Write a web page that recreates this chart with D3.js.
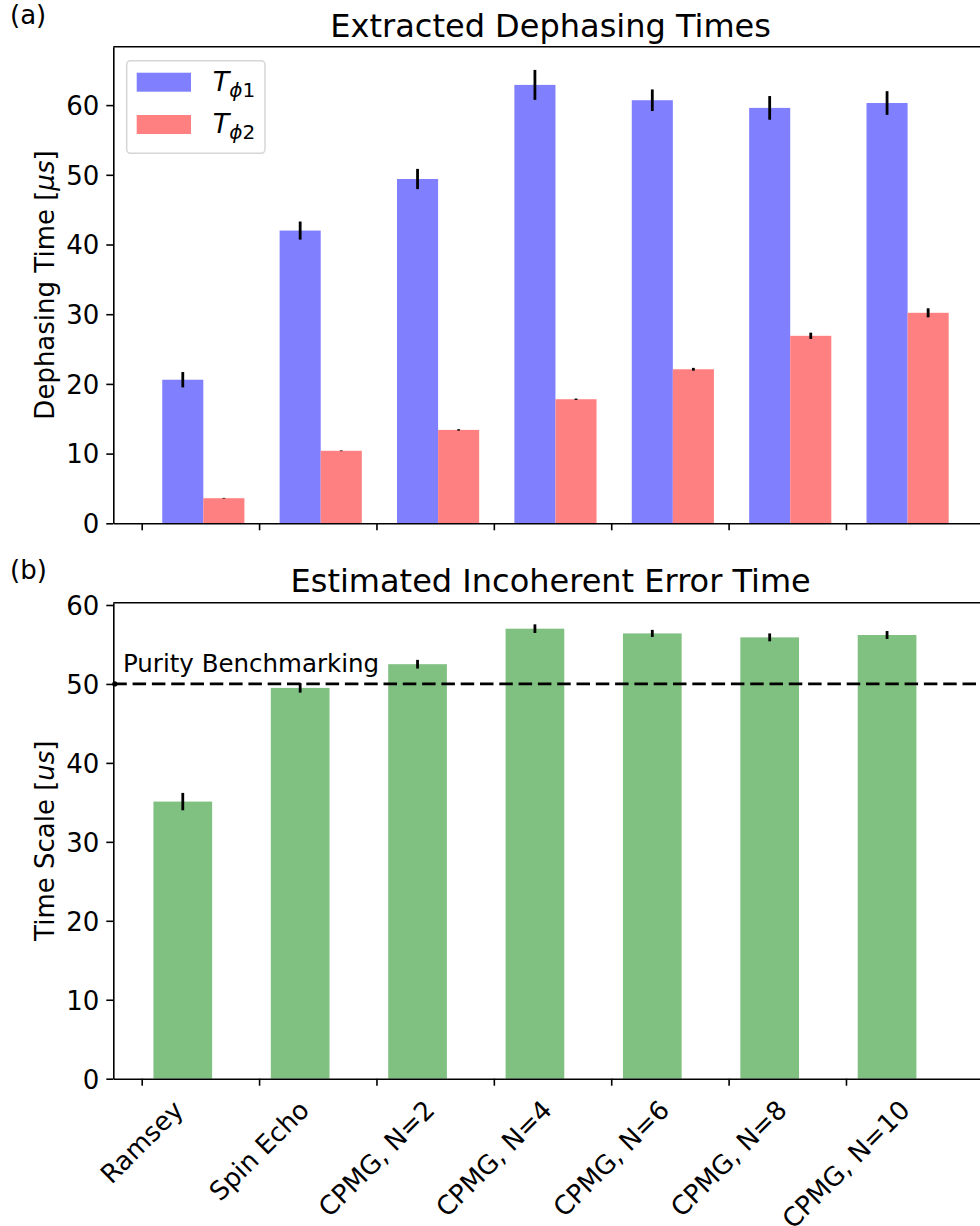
<!DOCTYPE html>
<html lang="en">
<head>
    <meta charset="UTF-8">
    <title>Dephasing times with D3.js</title>
    <script src="https://d3js.org/d3.v7.min.js"></script>
    <style>
        body { margin: 0; background: #fff; }
        svg { font-family: "DejaVu Sans", sans-serif; display: block; }
        .tick text { font-size: 26px; fill: #000; font-family: "DejaVu Sans", sans-serif; }
        .domain, .tick line { stroke: #000; stroke-width: 1.6px; }
    </style>
</head>
<body>
<svg id="chart" width="980" height="1226"></svg>
<script>
    // Measurement names (x categories)
    const methods = ["Ramsey", "Spin Echo", "CPMG, N=2", "CPMG, N=4", "CPMG, N=6", "CPMG, N=8", "CPMG, N=10"];

    // Panel (a): extracted dephasing times [us]
    const tphi1 = [20.6, 42.0, 49.4, 62.9, 60.7, 59.6, 60.3];
    const tphi1Err = [1.1, 1.3, 1.45, 2.15, 1.55, 1.7, 1.7];
    const tphi2 = [3.6, 10.4, 13.4, 17.8, 22.1, 26.9, 30.2];
    const tphi2Err = [0.05, 0.05, 0.1, 0.1, 0.2, 0.45, 0.65];

    // Panel (b): estimated incoherent error time [us]
    const incoherent = [35.1, 49.5, 52.5, 57.0, 56.4, 55.9, 56.2];
    const incoherentErr = [1.1, 0.6, 0.55, 0.55, 0.45, 0.5, 0.5];
    const purityLevel = 50;

    const yTicks = [0, 10, 20, 30, 40, 50, 60];

    const svg = d3.select("#chart");
    svg.append("rect").attr("width", 980).attr("height", 1226).attr("fill", "#fff");

    // shared x scale (category index as number, axes clipped at the right edge like the original)
    const x = d3.scaleLinear().domain([-0.242, 7.21]).range([113.3, 988]);

    const topY = d3.scaleLinear().domain([0, 68.38]).range([523.3, 46.7]);
    const botY = d3.scaleLinear().domain([0, 60.29]).range([1078.7, 602.7]);

    function drawAxes(y, title, titleY, panel, panelY, ylabel, withLabels) {
        const g = svg.append("g");

        // left axis
        g.append("g")
            .attr("transform", `translate(${x.range()[0]},0)`)
            .call(d3.axisLeft(y).tickValues(yTicks).tickSize(7).tickPadding(7).tickSizeOuter(0))
            .call(a => a.selectAll(".tick text").attr("dy", "0.36em"));

        // bottom axis
        const xa = g.append("g")
            .attr("transform", `translate(0,${y.range()[0]})`)
            .call(d3.axisBottom(x).tickValues(d3.range(methods.length)).tickSize(7).tickSizeOuter(0)
                .tickFormat(""));

        // top spine
        g.append("line")
            .attr("x1", x.range()[0]).attr("x2", x.range()[1])
            .attr("y1", y.range()[1]).attr("y2", y.range()[1])
            .attr("stroke", "#000").attr("stroke-width", 1.6);

        if (withLabels) {
            methods.forEach((m, i) => {
                const lg = xa.append("g");
                lg.append("text")
                    .attr("text-anchor", "middle")
                    .attr("dy", "0.35em")
                    .attr("transform", "rotate(-45)")
                    .attr("fill", "#000")
                    .style("font-family", "'DejaVu Sans', sans-serif")
                    .style("font-size", "26px")
                    .text(m);
                const bb = lg.node().getBBox();
                lg.attr("transform", `translate(${x(i)},${16 - bb.y})`);
            });
        }

        // title
        svg.append("text")
            .attr("x", (x.range()[0] + x.range()[1]) / 2)
            .attr("y", titleY)
            .attr("text-anchor", "middle")
            .style("font-size", "32px")
            .text(title);

        // panel letter
        svg.append("text")
            .attr("x", 10).attr("y", panelY)
            .style("font-size", "26px")
            .text(panel);

        // y label
        const yl = svg.append("text")
            .attr("transform", `translate(53.5,${(y.range()[0] + y.range()[1]) / 2}) rotate(-90)`)
            .attr("text-anchor", "middle")
            .style("font-size", "26px");
        yl.append("tspan").text(ylabel[0]);
        yl.append("tspan").style("font-style", "italic").text(ylabel[1]);
        yl.append("tspan").text("]");
    }

    function errorBars(values, errs, offset, y) {
        svg.append("g").selectAll("line")
            .data(values)
            .join("line")
            .attr("x1", (d, i) => x(i + offset))
            .attr("x2", (d, i) => x(i + offset))
            .attr("y1", (d, i) => y(d - errs[i]))
            .attr("y2", (d, i) => y(d + errs[i]))
            .attr("stroke", "#000")
            .attr("stroke-width", 2.8);
    }

    // ---------------- Panel (a) ----------------
    const barW = 0.35;
    svg.append("g").selectAll("rect")
        .data(tphi1)
        .join("rect")
        .attr("x", (d, i) => x(i + 0.175))
        .attr("width", x(barW) - x(0))
        .attr("y", d => topY(d))
        .attr("height", d => topY(0) - topY(d))
        .attr("fill", "#8080ff");

    svg.append("g").selectAll("rect")
        .data(tphi2)
        .join("rect")
        .attr("x", (d, i) => x(i + 0.525))
        .attr("width", x(barW) - x(0))
        .attr("y", d => topY(d))
        .attr("height", d => topY(0) - topY(d))
        .attr("fill", "#ff8080");

    errorBars(tphi1, tphi1Err, 0.35, topY);
    errorBars(tphi2, tphi2Err, 0.7, topY);

    drawAxes(topY, "Extracted Dephasing Times", 37, "(a)", 24, ["Dephasing Time [", "\u03bcs"], false);

    // legend
    const legend = svg.append("g").attr("transform", "translate(126.7,60.7)");
    legend.append("rect")
        .attr("width", 138.3).attr("height", 92.6)
        .attr("rx", 4)
        .attr("fill", "#fff").attr("fill-opacity", 0.8)
        .attr("stroke", "#d6d6d6").attr("stroke-width", 1.5);
    [["#8080ff", "1"], ["#ff8080", "2"]].forEach(([c, n], k) => {
        legend.append("rect")
            .attr("x", 10).attr("y", 12 + k * 42.3)
            .attr("width", 54.3).attr("height", 19)
            .attr("fill", c);
        const t = legend.append("text")
            .attr("x", 86).attr("y", 30 + k * 42)
            .style("font-size", "27px")
            .style("font-style", "italic");
        t.append("tspan").text("T");
        t.append("tspan").attr("dy", 6).style("font-size", "20px").text("\u03d5");
        t.append("tspan").style("font-size", "20px").style("font-style", "normal").text(n);
    });

    // ---------------- Panel (b) ----------------
    svg.append("g").selectAll("rect")
        .data(incoherent)
        .join("rect")
        .attr("x", (d, i) => x(i + 0.1))
        .attr("width", x(0.5) - x(0))
        .attr("y", d => botY(d))
        .attr("height", d => botY(0) - botY(d))
        .attr("fill", "#80c080");

    errorBars(incoherent, incoherentErr, 0.35, botY);

    // purity benchmarking reference line
    svg.append("line")
        .attr("x1", x.range()[0]).attr("x2", x.range()[1])
        .attr("y1", botY(purityLevel)).attr("y2", botY(purityLevel))
        .attr("stroke", "#000").attr("stroke-width", 2.8)
        .attr("stroke-dasharray", "13.5 5.8");
    svg.append("circle")
        .attr("cx", x.range()[0] + 1.5).attr("cy", botY(purityLevel))
        .attr("r", 2.6).attr("fill", "#000");
    svg.append("text")
        .attr("x", 123).attr("y", 671.5)
        .style("font-size", "24.5px")
        .text("Purity Benchmarking");

    drawAxes(botY, "Estimated Incoherent Error Time", 592.3, "(b)", 579, ["Time Scale [", "us"], true);
</script>
</body>
</html>
